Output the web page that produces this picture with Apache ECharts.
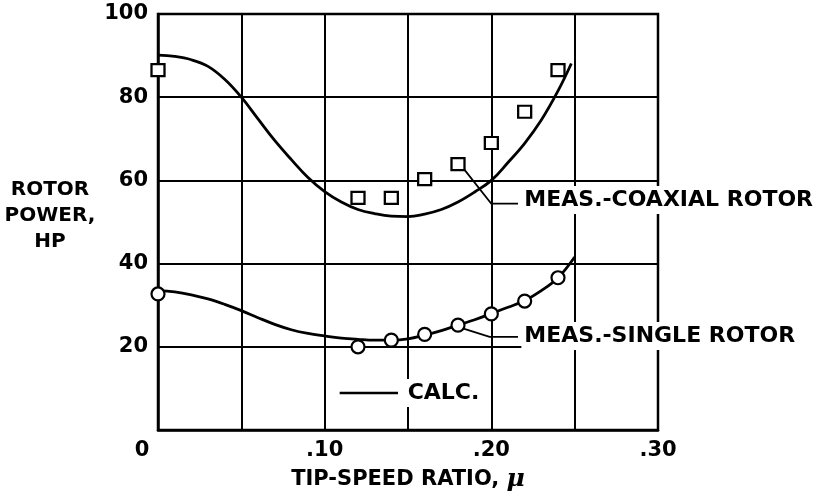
<!DOCTYPE html>
<html>
<head>
<meta charset="utf-8">
<script src="https://cdn.jsdelivr.net/npm/echarts@6/dist/echarts.min.js"></script>
<style>
  html, body { margin: 0; padding: 0; background: #fff; }
  #chart { width: 817px; height: 499px; }
</style>
</head>
<body>
<div id="chart"></div>
<script>
// calculated curves
const calcCoaxX = [0, 0.01, 0.02, 0.03, 0.04, 0.05, 0.06, 0.07, 0.08, 0.09, 0.10, 0.11, 0.12, 0.13,
  0.14, 0.15, 0.16, 0.17, 0.18, 0.19, 0.20, 0.21, 0.22, 0.23, 0.24, 0.248]
const calcCoax = [90.1, 89.8, 89.0, 87.4, 84.3, 80, 74.8, 69.6, 65, 60.7, 57.3, 54.8, 53, 52,
  51.4, 51.3, 51.9, 53, 54.8, 57.2, 60, 64.3, 68.9, 74.5, 81.5, 88.1]
const calcSingleX = [0, 0.01, 0.02, 0.03, 0.04, 0.05, 0.06, 0.07, 0.08, 0.09, 0.10, 0.11, 0.12, 0.13,
  0.14, 0.15, 0.16, 0.17, 0.18, 0.19, 0.20, 0.21, 0.22, 0.23, 0.24, 0.25]
const calcSingle = [33.5, 33.2, 32.5, 31.5, 30.2, 28.7, 27, 25.4, 24.1, 23.2, 22.6, 22.1, 21.8, 21.6,
  21.6, 21.9, 22.8, 23.9, 25.2, 26.5, 28, 29.5, 31.1, 33.5, 36.6, 41.6]

// measured points
const measX = [0, 0.12, 0.14, 0.16, 0.18, 0.20, 0.22, 0.24]
const measCoax = [86.5, 55.8, 55.8, 60.3, 63.9, 69, 76.5, 86.5]
const measSingle = [32.7, 20, 21.6, 23, 25.2, 27.9, 31, 36.6]

// leader lines + labels (data coords)
const coaxLeader = [[0.183, 63], [0.2, 54.4], [0.216, 54.4]]
const singleLeader = [[0.18, 24.8], [0.199, 22.4], [0.216, 22.4]]
const coaxLabel = 'MEAS.-COAXIAL ROTOR'
const singleLabel = 'MEAS.-SINGLE ROTOR'
const calcLabel = 'CALC.'

const font = '"DejaVu Sans", sans-serif'
const zip = (xs, ys) => xs.map((x, i) => [x, ys[i]])

let myChart = echarts.init(document.getElementById('chart'))
let option = {
  animation: false,
  backgroundColor: '#fff',
  grid: { left: 158, right: 159, top: 14, bottom: 69, show: true, borderColor: '#000', borderWidth: 2.5 },
  xAxis: {
    type: 'value', min: 0, max: 0.3, interval: 0.05,
    axisLine: { lineStyle: { color: '#000', width: 2.5 } },
    axisTick: { show: false },
    splitLine: { lineStyle: { color: '#000', width: 2 } },
    axisLabel: {
      margin: 10, color: '#000', fontFamily: font, fontWeight: 'bold', fontSize: 21,
      formatter: v => {
        let k = Math.round(v * 100)
        if (k === 0) return '{z|0}'
        return k % 10 === 0 ? '.' + k : ''
      },
      rich: { z: { padding: [0, 32, 0, 0], color: '#000', fontFamily: font, fontWeight: 'bold', fontSize: 21 } }
    },
    name: 'TIP-SPEED RATIO, {m|μ}', nameLocation: 'middle', nameGap: 37,
    nameTextStyle: {
      color: '#000', fontFamily: font, fontWeight: 'bold', fontSize: 21,
      rich: { m: { fontFamily: '"DejaVu Serif", serif', fontStyle: 'italic', fontWeight: 'bold', fontSize: 25, color: '#000' } }
    }
  },
  yAxis: {
    type: 'value', min: 0, max: 100, interval: 20,
    axisLine: { show: true, lineStyle: { color: '#000', width: 2.5 } },
    axisTick: { show: false },
    splitLine: { lineStyle: { color: '#000', width: 2 } },
    axisLabel: {
      margin: 10, color: '#000', fontFamily: font, fontWeight: 'bold', fontSize: 21,
      formatter: v => v === 0 ? '' : String(v)
    }
  },
  series: [
    { type: 'line', data: zip(calcCoaxX, calcCoax), smooth: 0.4, symbol: 'none', z: 3,
      lineStyle: { color: '#000', width: 2.8 } },
    { type: 'line', data: zip(calcSingleX, calcSingle), smooth: 0.4, symbol: 'none', z: 3,
      lineStyle: { color: '#000', width: 2.8 } },
    { type: 'line', data: coaxLeader, symbol: 'none', z: 2, lineStyle: { color: '#000', width: 1.8 } },
    { type: 'line', data: singleLeader, symbol: 'none', z: 2, lineStyle: { color: '#000', width: 1.8 } },
    { type: 'scatter', data: zip(measX, measCoax), symbol: 'rect', symbolSize: [13, 12], z: 5,
      itemStyle: { color: '#fff', borderColor: '#000', borderWidth: 2.2, opacity: 1 } },
    { type: 'scatter', data: zip(measX, measSingle), symbol: 'circle', symbolSize: 13, z: 5,
      itemStyle: { color: '#fff', borderColor: '#000', borderWidth: 2.2, opacity: 1 } }
  ]
}
option && myChart.setOption(option)

// labels placed from data coords
const px = p => myChart.convertToPixel({ gridIndex: 0 }, p)
const labelStyle = (text) => ({
  text: text, font: 'bold 22px ' + font, fill: '#000', backgroundColor: '#fff',
  padding: [3, 3], align: 'left', verticalAlign: 'middle'
})
let cA = px([0.218, 55.3])
let sA = px([0.218, 22.6])
let k1 = px([0.109, 8.9])
let k2 = px([0.144, 8.9])
let kT = px([0.148, 8.9])
myChart.setOption({
  graphic: [
    { type: 'text', x: cA[0], y: cA[1], z: 50, style: labelStyle(coaxLabel) },
    { type: 'text', x: sA[0], y: sA[1], z: 50, style: labelStyle(singleLabel) },
    { type: 'line', z: 50, shape: { x1: k1[0], y1: k1[1], x2: k2[0], y2: k2[1] },
      style: { stroke: '#000', lineWidth: 2.5 } },
    { type: 'text', x: kT[0], y: kT[1], z: 50, style: labelStyle(calcLabel) },
    { type: 'text', x: 50, y: 216, z: 50,
      style: { text: 'ROTOR\nPOWER,\nHP', font: 'bold 20px ' + font, fill: '#000', lineHeight: 26,
        align: 'center', verticalAlign: 'middle' } }
  ]
})
</script>
</body>
</html>
